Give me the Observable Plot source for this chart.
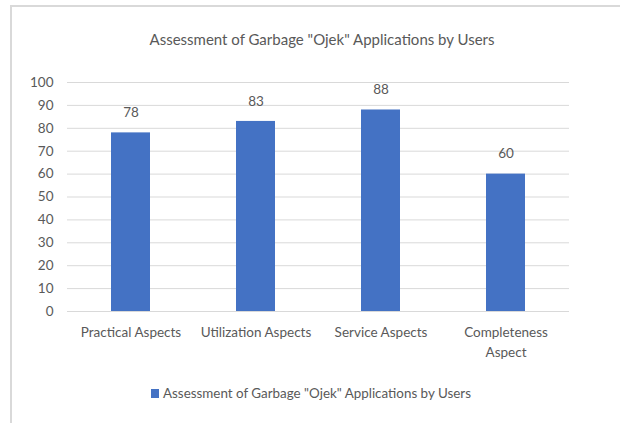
<!DOCTYPE html>
<html>
<head>
<meta charset="utf-8">
<script src="https://cdn.jsdelivr.net/npm/d3@7"></script>
<script src="https://cdn.jsdelivr.net/npm/@observablehq/plot@0.6"></script>
<style>
  html, body { margin: 0; padding: 0; background: #fff; }
  #wrap { position: relative; width: 620px; height: 423px; overflow: hidden; font-family: Lato, "Open Sans", sans-serif; color: #595959; }
  #frameTop { position: absolute; left: 10px; top: 5px; width: 610px; height: 2px; background: #d9d9d9; }
  #frameLeft { position: absolute; left: 10px; top: 5px; width: 2px; height: 418px; background: #d9d9d9; }
  #title { position: absolute; left: 0; width: 644px; top: 30px; text-align: center; font-size: 15px; }
  #legend { position: absolute; left: 151px; top: 385px; font-size: 13.4px; display: flex; align-items: center; white-space: nowrap; }
  #legend .sw { width: 8px; height: 9px; background: #4472C4; margin-right: 4px; }
  #chart { position: absolute; left: 0; top: 0; }
</style>
</head>
<body>
<div id="wrap">
  <div id="chart"></div>
  <div id="frameTop"></div>
  <div id="frameLeft"></div>
  <div id="title"></div>
  <div id="legend"><span class="sw"></span><span id="legendText"></span></div>
</div>
<script>
const titleText = 'Assessment of Garbage "Ojek" Applications by Users';
const seriesName = 'Assessment of Garbage "Ojek" Applications by Users';
const categories = ["Practical Aspects", "Utilization Aspects", "Service Aspects", "Completeness Aspect"];
const categoryLabels = ["Practical Aspects", "Utilization Aspects", "Service Aspects", "Completeness\nAspect"];
const values = [78, 83, 88, 60];
const yTicks = [0, 10, 20, 30, 40, 50, 60, 70, 80, 90, 100];

document.getElementById("title").textContent = titleText;
document.getElementById("legendText").textContent = seriesName;

const data = categories.map((c, i) => ({category: c, value: values[i]}));
const labelOf = new Map(categories.map((c, i) => [c, categoryLabels[i]]));

const chart = Plot.plot({
  width: 620,
  height: 423,
  marginLeft: 67,
  marginRight: 51,
  marginTop: 82,
  marginBottom: 112,
  style: {fontFamily: "Lato, 'Open Sans', sans-serif", fontSize: "13.5px", color: "#595959", background: "transparent"},
  x: {domain: categories, paddingInner: 0.69, paddingOuter: 0.345, label: null},
  y: {domain: [0, 100], label: null},
  marks: [
    Plot.gridY(yTicks, {stroke: "#d9d9d9", strokeOpacity: 1, strokeWidth: 1}),
    Plot.barY(data, {x: "category", y: "value", fill: "#4472C4"}),
    Plot.text(data, {x: "category", y: "value", text: d => String(d.value), dy: -20, fill: "#595959", fontSize: 13.5}),
    Plot.axisY({ticks: yTicks, tickSize: 0, tickPadding: 14, fill: "#595959", fontSize: 13.5, label: null}),
    Plot.axisX({tickSize: 0, tickPadding: 12, tickFormat: d => labelOf.get(d), fill: "#595959", fontSize: 13.5, label: null, lineHeight: 1.45})
  ]
});
document.getElementById("chart").appendChild(chart);
</script>
</body>
</html>
